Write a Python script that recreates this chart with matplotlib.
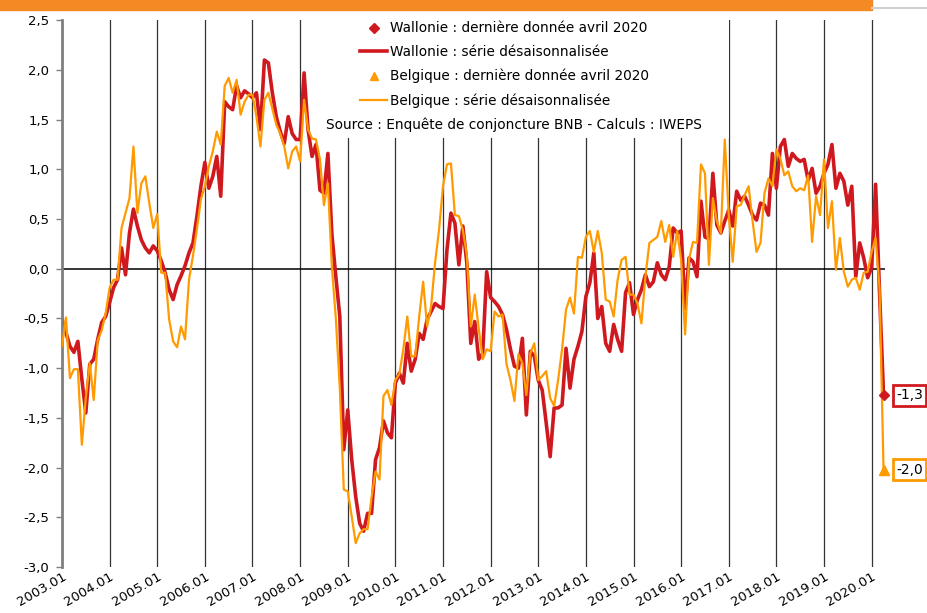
import matplotlib.pyplot as plt
from matplotlib.lines import Line2D
from matplotlib.patches import Rectangle

rouge = '#D0191F'
orange = '#FF9A00'

# indice de confiance, séries désaisonnalisées, de 2003.01 à 2020.04
wallonie = [
    -0.51, -0.64, -0.78, -0.84, -0.73, -1.11, -1.45, -0.96, -0.91, -0.71, -0.54, -0.48,
    -0.34, -0.19, -0.11, 0.21, -0.06, 0.36, 0.60, 0.43, 0.29, 0.21, 0.16, 0.23,
    0.18, 0.08, -0.04, -0.21, -0.31, -0.16, -0.07, 0.03, 0.16, 0.26, 0.53, 0.83,
    1.07, 0.81, 0.93, 1.13, 0.73, 1.68, 1.63, 1.60, 1.84, 1.72, 1.79, 1.76,
    1.72, 1.77, 1.40, 2.10, 2.07, 1.77, 1.53, 1.38, 1.26, 1.53, 1.36, 1.30,
    1.30, 1.97, 1.40, 1.13, 1.25, 0.79, 0.76, 1.16, 0.35, -0.08, -0.48, -1.82,
    -1.42, -1.92, -2.29, -2.56, -2.64, -2.46, -2.46, -1.92, -1.80, -1.53, -1.65, -1.70,
    -1.15, -1.05, -1.15, -0.75, -1.03, -0.91, -0.65, -0.71, -0.51, -0.43, -0.35, -0.38,
    -0.40, 0.19, 0.56, 0.46, 0.04, 0.43, 0.06, -0.75, -0.53, -0.91, -0.85, -0.03,
    -0.29, -0.33, -0.38, -0.46, -0.61, -0.81, -0.98, -1.00, -0.70, -1.47, -0.83, -0.88,
    -1.12, -1.22, -1.55, -1.89, -1.40, -1.40, -1.37, -0.80, -1.20, -0.91, -0.78, -0.63,
    -0.28, -0.14, 0.16, -0.50, -0.38, -0.75, -0.83, -0.56, -0.71, -0.83, -0.24, -0.14,
    -0.46, -0.31, -0.21, -0.06, -0.18, -0.13, 0.06, -0.06, -0.11, 0.02, 0.41, 0.36,
    0.38, -0.40, 0.11, 0.07, -0.08, 0.68, 0.32, 0.30, 0.96, 0.44, 0.36, 0.48,
    0.59, 0.43, 0.78, 0.69, 0.73, 0.64, 0.54, 0.49, 0.66, 0.64, 0.54, 1.16,
    0.81, 1.23, 1.30, 1.03, 1.16, 1.11, 1.08, 1.10, 0.89, 1.01, 0.76, 0.83,
    0.96, 1.05, 1.25, 0.81, 0.96, 0.88, 0.64, 0.83, -0.08, 0.26, 0.11, -0.09,
    0.01, 0.85, -0.25, -1.27,
]
belgique = [
    -0.78, -0.49, -1.10, -1.01, -1.01, -1.77, -1.30, -0.95, -1.32, -0.72, -0.62, -0.45,
    -0.19, -0.11, -0.11, 0.41, 0.56, 0.71, 1.23, 0.56, 0.86, 0.93, 0.66, 0.41,
    0.55, -0.04, -0.04, -0.51, -0.73, -0.79, -0.58, -0.71, -0.11, 0.13, 0.40, 0.70,
    0.83, 1.03, 1.18, 1.38, 1.25, 1.84, 1.92, 1.77, 1.90, 1.55, 1.68, 1.75,
    1.75, 1.53, 1.23, 1.70, 1.77, 1.61, 1.45, 1.36, 1.23, 1.01, 1.18, 1.23,
    1.08, 1.70, 1.40, 1.31, 1.30, 1.10, 0.64, 0.86, 0.02, -0.50, -1.20, -2.22,
    -2.24, -2.49, -2.76, -2.66, -2.62, -2.62, -2.30, -2.04, -2.12, -1.28, -1.22, -1.37,
    -1.12, -1.06, -0.81, -0.48, -0.88, -0.88, -0.48, -0.13, -0.58, -0.38, 0.06, 0.39,
    0.83, 1.05, 1.06, 0.54, 0.53, 0.39, 0.14, -0.58, -0.26, -0.60, -0.91, -0.81,
    -0.83, -0.43, -0.48, -0.46, -0.96, -1.12, -1.33, -0.86, -0.95, -1.27, -0.85, -0.75,
    -1.12, -1.08, -1.03, -1.30, -1.38, -1.12, -0.81, -0.41, -0.29, -0.45, 0.12, 0.11,
    0.32, 0.38, 0.17, 0.38, 0.16, -0.31, -0.33, -0.48, -0.11, 0.09, 0.12, -0.26,
    -0.26, -0.35, -0.55, -0.08, 0.26, 0.29, 0.32, 0.48, 0.27, 0.44, 0.12, 0.38,
    0.09, -0.66, 0.10, 0.27, 0.26, 1.05, 0.96, 0.04, 0.71, 0.48, 0.36, 1.30,
    0.54, 0.07, 0.63, 0.64, 0.74, 0.83, 0.48, 0.17, 0.26, 0.76, 0.91, 0.83,
    1.20, 1.11, 0.94, 0.98, 0.83, 0.78, 0.81, 0.79, 0.94, 0.27, 0.73, 0.54,
    1.10, 0.41, 0.68, -0.01, 0.31, -0.03, -0.18, -0.11, -0.09, -0.21, -0.04, -0.03,
    0.17, 0.31, -0.20, -2.02,
]

x = [i for i in range(len(wallonie))]
annees = [a for a in range(2003, 2021)]

fig = plt.figure(figsize=(9.28, 6.13), dpi=100)
ax = plt.axes([0.0668, 0.075, 0.887, 0.892])

# bandeau orange en haut
fig.patches.append(Rectangle((0, 0.983), 0.9397, 0.02, transform=fig.transFigure,
                             color='#F58A25', zorder=0))
fig.lines.append(Line2D([0.9397, 1.0], [0.987, 0.987], transform=fig.transFigure,
                        color='#d0d0d0', linewidth=1.5))

plt.plot(x, belgique, color=orange, linewidth=1.6, zorder=3)
plt.plot(x, wallonie, color=rouge, linewidth=2.6, zorder=2)
plt.plot(x[-1], belgique[-1], marker='^', markersize=7, color=orange, clip_on=False, zorder=4)
plt.plot(x[-1], wallonie[-1], marker='D', markersize=5.5, color=rouge, clip_on=False, zorder=4)

plt.annotate('-1,3', xy=(x[-1], wallonie[-1]), xytext=(9, 0), textcoords='offset points',
             ha='left', va='center', fontsize=10, annotation_clip=False,
             bbox=dict(boxstyle='square,pad=0.25', fc='white', ec=rouge, lw=2))
plt.annotate('-2,0', xy=(x[-1], belgique[-1]), xytext=(9, 0), textcoords='offset points',
             ha='left', va='center', fontsize=10, annotation_clip=False,
             bbox=dict(boxstyle='square,pad=0.25', fc='white', ec=orange, lw=2))

plt.axhline(0, color='black', linewidth=1.1, zorder=1.9)
plt.xlim(0, 207.4)
plt.ylim(-3, 2.5)
plt.xticks([12 * (a - 2003) for a in annees], ['%d.01' % a for a in annees],
           rotation=30, ha='right', rotation_mode='anchor', fontsize=9.5)
plt.yticks([v / 2 for v in range(-6, 6)],
           [('%.1f' % (v / 2)).replace('.', ',') for v in range(-6, 6)], fontsize=9.5)
plt.tick_params(axis='x', length=0, pad=2)
plt.tick_params(axis='y', length=4, width=1, color='#808080', pad=5)
plt.grid(True, axis='x', color='#333333', linewidth=0.9)

for cote in ['top', 'right', 'bottom']:
    ax.spines[cote].set_visible(False)
ax.spines['left'].set_color('#808080')
ax.spines['left'].set_linewidth(2)

# fond blanc derrière la légende
ax.add_patch(Rectangle((0.30, 0.785), 0.51, 0.22, transform=ax.transAxes,
                       facecolor='white', edgecolor='none', zorder=1.8, clip_on=False))

poignees = [
    Line2D([], [], color=rouge, marker='D', linestyle='none', markersize=5),
    Line2D([], [], color=rouge, linewidth=2.6),
    Line2D([], [], color=orange, marker='^', linestyle='none', markersize=6),
    Line2D([], [], color=orange, linewidth=1.6),
]
etiquettes = [
    'Wallonie : dernière donnée avril 2020',
    'Wallonie : série désaisonnalisée',
    'Belgique : dernière donnée avril 2020',
    'Belgique : série désaisonnalisée',
]
plt.legend(poignees, etiquettes, loc='upper left', bbox_to_anchor=(0.362, 0.998),
           frameon=False, fontsize=9.8, handlelength=2.0, handletextpad=0.2,
           labelspacing=0.72, borderpad=0, borderaxespad=0)
plt.text(0.321, 0.808, 'Source : Enquête de conjoncture BNB - Calculs : IWEPS',
         transform=ax.transAxes, fontsize=9.8, va='center', ha='left', zorder=5)

plt.savefig('out.png', dpi=100)
